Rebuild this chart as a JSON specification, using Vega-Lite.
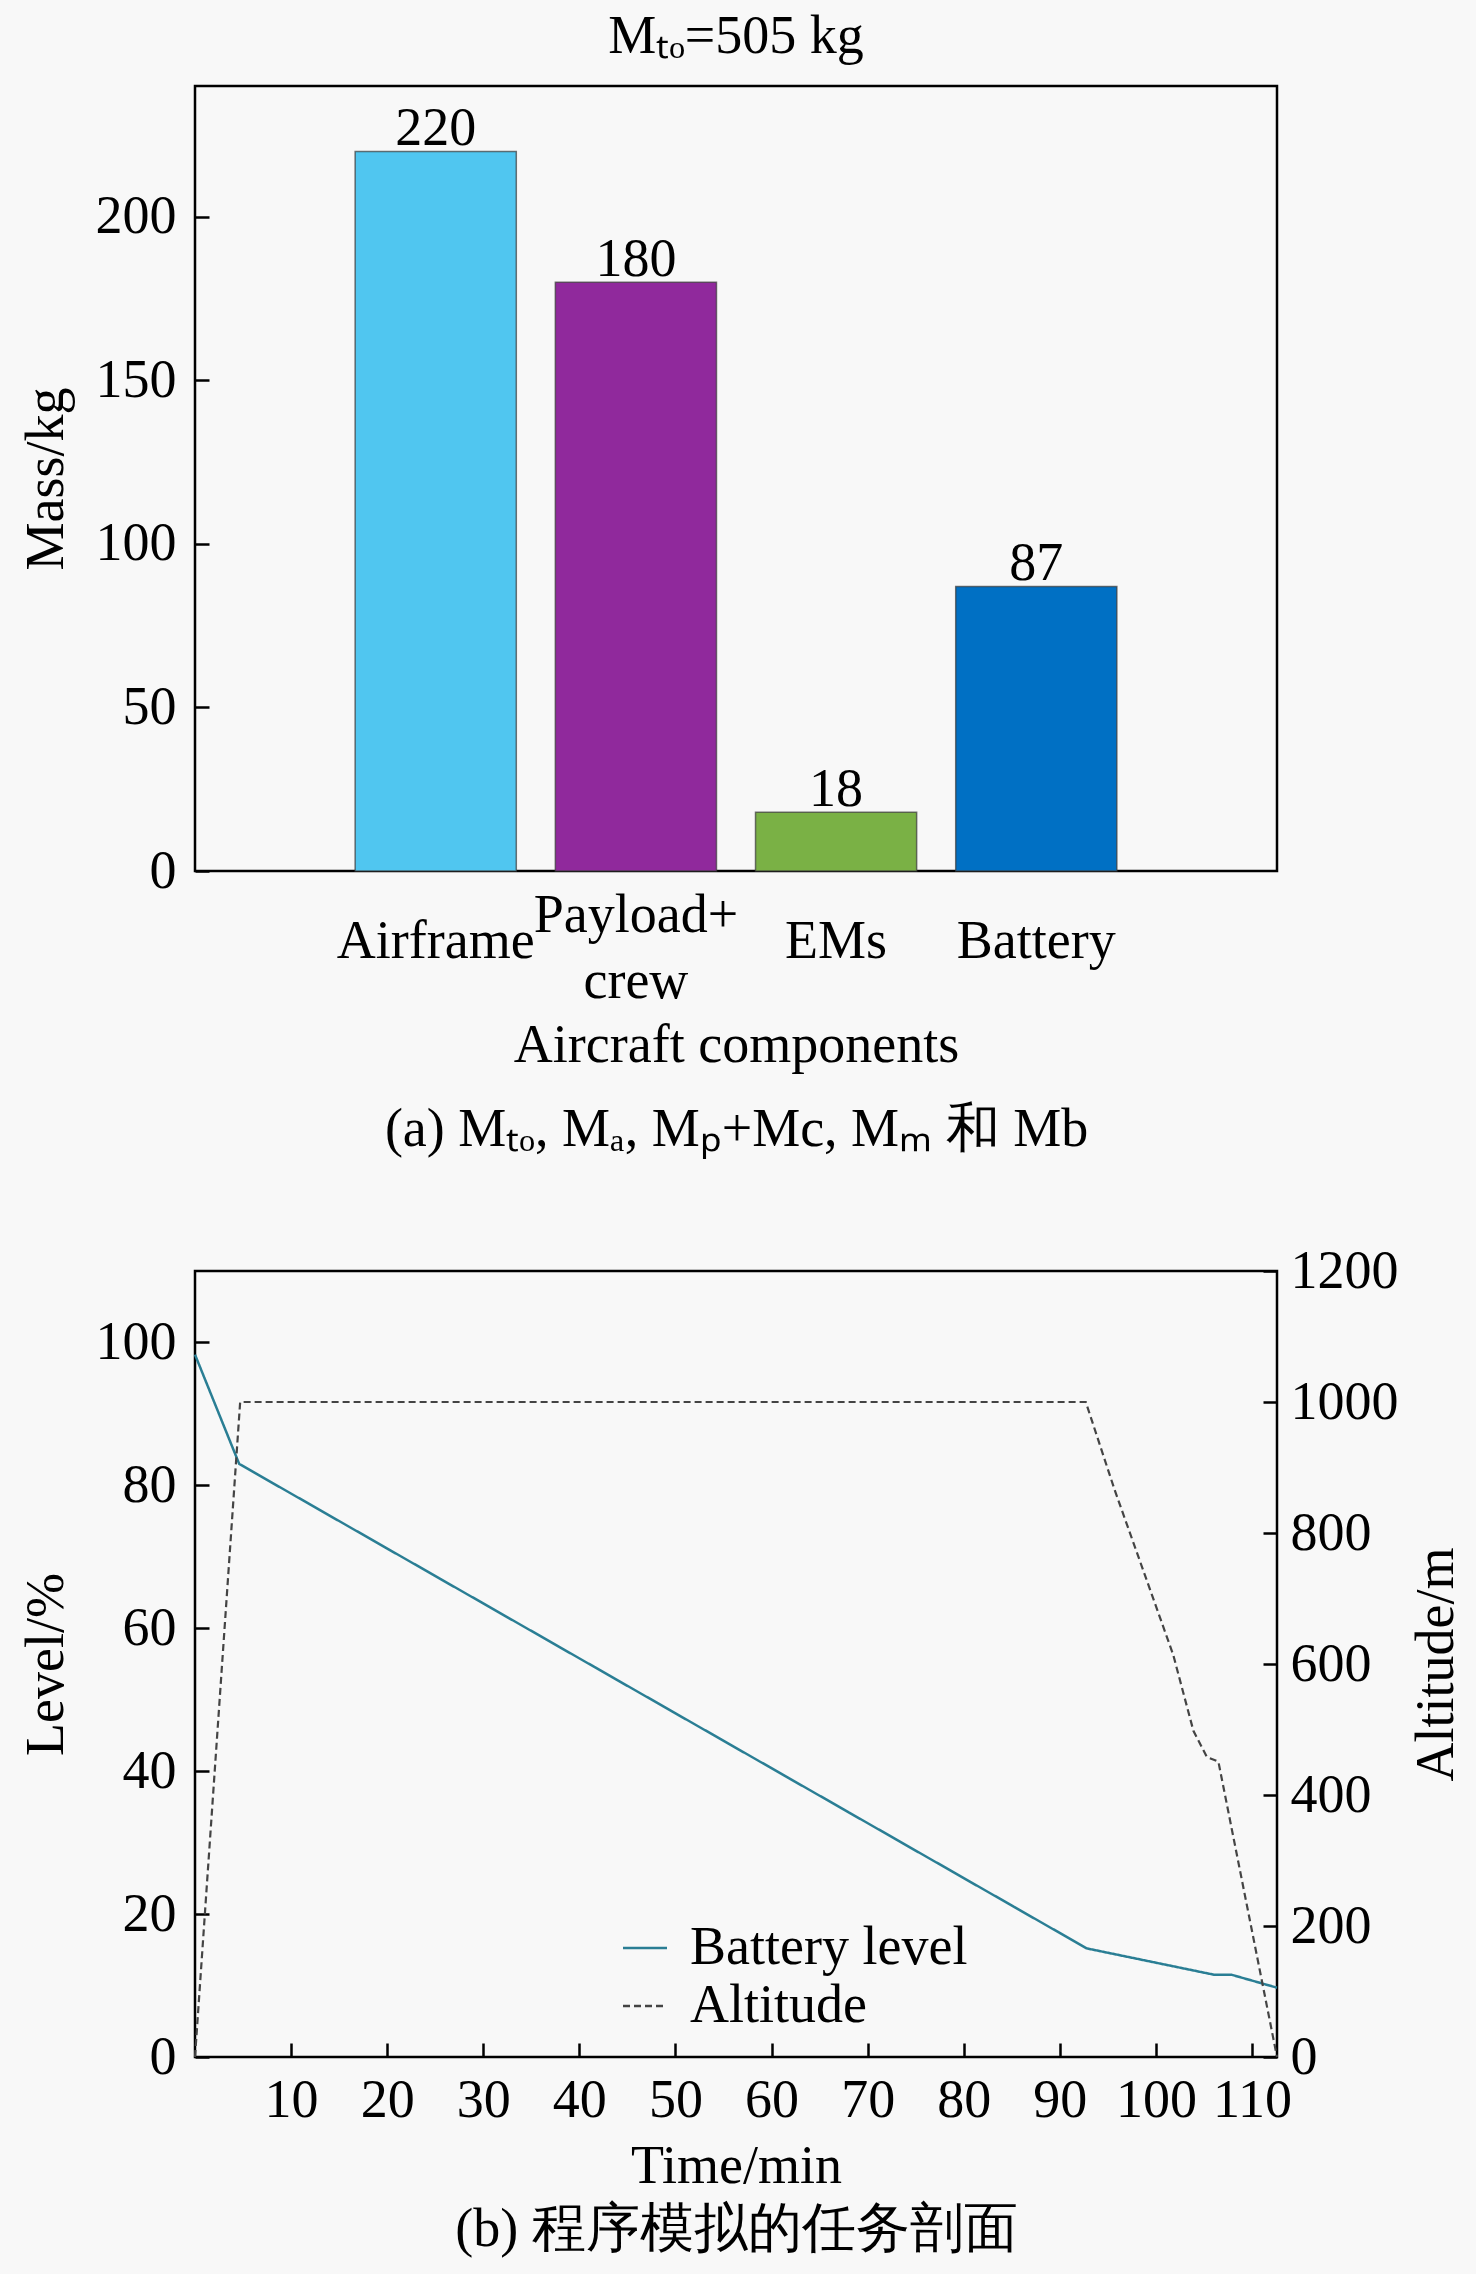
{
  "$schema": "https://vega.github.io/schema/vega-lite/v6.json",
  "background": "#f8f8f8",
  "padding": {"left": 17, "top": 8, "right": 40, "bottom": 40},
  "config": {
    "font": "Liberation Serif",
    "view": {"stroke": "black", "strokeWidth": 2.5},
    "axis": {
      "labelFont": "Liberation Serif", "titleFont": "Liberation Serif",
      "labelFontSize": 54, "titleFontSize": 54, "titleFontWeight": "normal",
      "labelColor": "black", "titleColor": "black", "tickColor": "black",
      "tickWidth": 2.5, "grid": false, "domain": false, "labelLimit": 0, "format": "d"
    },
    "title": {"font": "Liberation Serif", "fontSize": 54, "fontWeight": "normal", "color": "black"},
    "legend": {"labelFont": "Liberation Serif", "labelFontSize": 54, "labelColor": "black", "labelLimit": 0}
  },
  "resolve": {
    "scale": {"color": "independent", "strokeDash": "independent"},
    "legend": {"color": "independent", "strokeDash": "independent"}
  },
  "vconcat": [
    {
      "width": 1082,
      "height": 785,
      "title": {"text": "Mₜₒ=505 kg", "offset": 22},
      "data": {"values": [
        {"component": "Airframe", "mass": 220},
        {"component": "Payload+ crew", "mass": 180},
        {"component": "EMs", "mass": 18},
        {"component": "Battery", "mass": 87}
      ]},
      "encoding": {
        "x": {"field": "component", "type": "nominal", "sort": null,
          "scale": {"paddingInner": 0.195, "paddingOuter": 0.8},
          "axis": {"labelAngle": 0, "labelExpr": "split(datum.value, ' ')", "labelBaseline": "middle",
            "labelLineHeight": 66,
            "labelPadding": {"condition": {"test": "datum.value == 'Payload+ crew'", "value": 58}, "value": 84},
            "tickSize": -14,
            "title": ["Aircraft components", "(a) Mₜₒ, Mₐ, Mₚ+Mc, Mₘ 和 Mb"], "titleLineHeight": 84, "titlePadding": 10}},
        "y": {"field": "mass", "type": "quantitative",
          "scale": {"domain": [0, 240], "nice": false},
          "axis": {"values": [0, 50, 100, 150, 200], "tickSize": -14, "labelPadding": 33, "title": "Mass/kg", "titlePadding": 22}}
      },
      "layer": [
        {
          "mark": {"type": "bar", "stroke": "#3a3a3a", "strokeWidth": 1.5, "strokeOpacity": 0.7},
          "encoding": {
            "color": {"field": "component", "type": "nominal", "legend": null,
              "scale": {"domain": ["Airframe", "Payload+ crew", "EMs", "Battery"],
                "range": ["#50c6f0", "#90299c", "#7ab145", "#0070c4"]}}
          }
        },
        {
          "mark": {"type": "text", "baseline": "alphabetic", "dy": -6, "fontSize": 54, "font": "Liberation Serif", "color": "black"},
          "encoding": {"text": {"field": "mass", "type": "quantitative"}}
        }
      ]
    },
    {
      "width": 1082,
      "height": 786,
      "data": {"values": [
        {"time": 0, "value": 98.3, "series": "Battery level"},
        {"time": 4.6, "value": 83.0, "series": "Battery level"},
        {"time": 92.8, "value": 15.2, "series": "Battery level"},
        {"time": 106.1, "value": 11.5, "series": "Battery level"},
        {"time": 107.9, "value": 11.5, "series": "Battery level"},
        {"time": 112.6, "value": 9.7, "series": "Battery level"},
        {"time": 0, "value": 0, "series": "Altitude"},
        {"time": 4.7, "value": 1000, "series": "Altitude"},
        {"time": 92.7, "value": 1000, "series": "Altitude"},
        {"time": 95.7, "value": 866, "series": "Altitude"},
        {"time": 101.8, "value": 614, "series": "Altitude"},
        {"time": 103.9, "value": 498, "series": "Altitude"},
        {"time": 105.3, "value": 458, "series": "Altitude"},
        {"time": 106.5, "value": 451, "series": "Altitude"},
        {"time": 112.6, "value": 0, "series": "Altitude"}
      ]},
      "encoding": {
        "x": {"field": "time", "type": "quantitative",
          "scale": {"domain": [0, 112.6], "nice": false, "zero": false},
          "axis": {"values": [10, 20, 30, 40, 50, 60, 70, 80, 90, 100, 110], "tickSize": -14, "labelPadding": 30,
            "title": ["Time/min", "(b) 程序模拟的任务剖面"], "titleLineHeight": 63, "titlePadding": 12}},
        "color": {"field": "series", "type": "nominal",
          "scale": {"domain": ["Battery level", "Altitude"], "range": ["#2a7e94", "#444444"]},
          "legend": {"title": null, "orient": "none", "legendX": 423, "legendY": 650,
            "symbolType": "stroke", "symbolSize": 1936, "symbolStrokeWidth": 2.5, "labelOffset": 18, "rowPadding": 4}},
        "strokeDash": {"field": "series", "type": "nominal",
          "scale": {"domain": ["Battery level", "Altitude"], "range": [[1, 0], [7, 4]]},
          "legend": {"title": null, "orient": "none", "legendX": 423, "legendY": 650,
            "symbolType": "stroke", "symbolSize": 1936, "symbolStrokeWidth": 2.5, "labelOffset": 18, "rowPadding": 4}}
      },
      "layer": [
        {
          "transform": [{"filter": "datum.series == 'Battery level'"}],
          "mark": {"type": "line", "strokeWidth": 2.5},
          "encoding": {
            "y": {"field": "value", "type": "quantitative",
              "scale": {"domain": [0, 110], "nice": false},
              "axis": {"orient": "left", "values": [0, 20, 40, 60, 80, 100], "tickSize": -14, "labelPadding": 33, "title": "Level/%", "titlePadding": 22}}
          }
        },
        {
          "transform": [{"filter": "datum.series == 'Altitude'"}],
          "mark": {"type": "line", "strokeWidth": 2.2},
          "encoding": {
            "y": {"field": "value", "type": "quantitative",
              "scale": {"domain": [0, 1200], "nice": false},
              "axis": {"orient": "right", "values": [0, 200, 400, 600, 800, 1000, 1200], "tickSize": -14, "labelPadding": 27, "title": "Altitude/m", "titleAngle": 270, "titlePadding": 65}}
          }
        }
      ],
      "resolve": {"scale": {"y": "independent"}}
    }
  ],
  "spacing": 84
}
